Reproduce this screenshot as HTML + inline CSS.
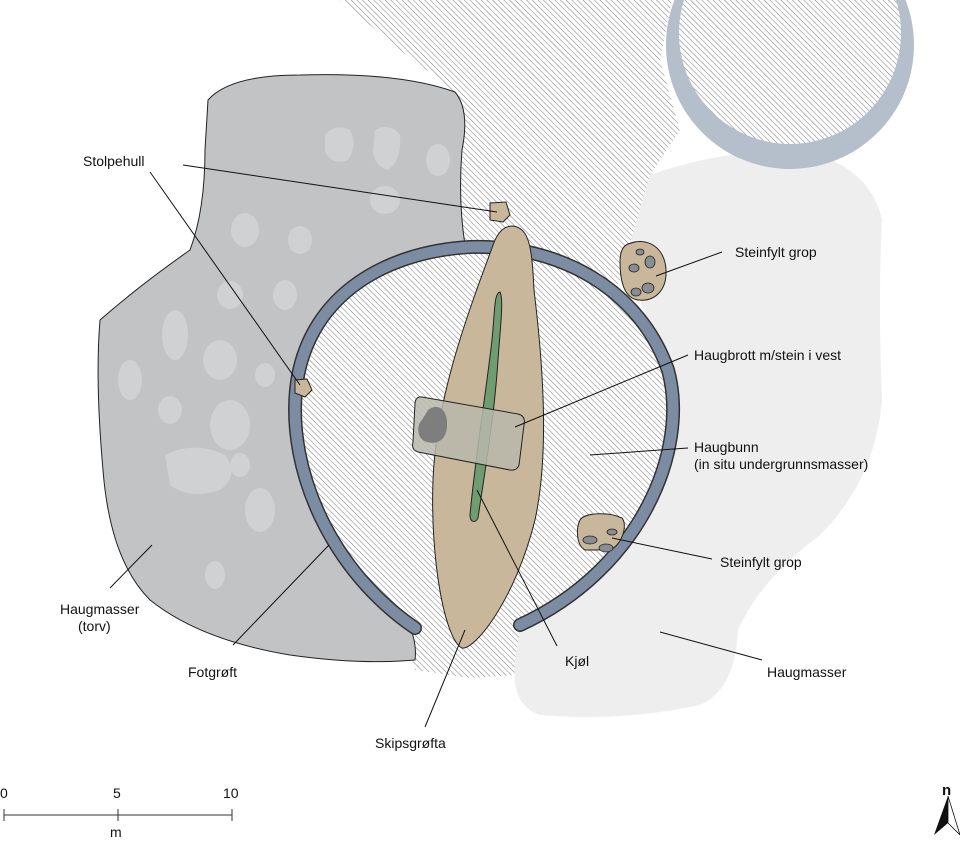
<!DOCTYPE html>
<html><head><meta charset="utf-8"><style>
body{margin:0;background:#fff}
svg{display:block}
text{font-family:"Liberation Sans",sans-serif;font-size:14px;fill:#111}
</style></head><body>
<svg width="960" height="842" viewBox="0 0 960 842">
<defs>
<pattern id="h" patternUnits="userSpaceOnUse" width="4" height="4" patternTransform="rotate(-45)">
<rect width="4" height="4" fill="#fff"/>
<line x1="0" y1="0" x2="0" y2="4" stroke="#7a7a7a" stroke-width="1"/>
</pattern>
</defs>
<!-- hatched background -->
<path d="M340,0 L672,0 L660,60 L680,130 L650,175 L640,240 L600,320 L560,560 L520,640 L515,675 L470,678 L415,670 L395,600 L420,400 L455,260 L465,120 L440,80 L400,50 Z" fill="url(#h)"/>
<!-- light grey right -->
<path d="M650,175 Q720,150 800,150 Q870,165 882,220 Q878,300 882,400 Q875,480 820,535 Q760,580 738,630 Q735,690 700,705 Q620,722 540,715 Q510,705 515,660 L520,630 L600,580 L655,480 L668,380 L640,300 L625,260 Z" fill="#eeeeee"/>
<!-- top right circle (crescent thicker at bottom) -->
<circle cx="790" cy="45" r="124" fill="#b5bfcb"/>
<circle cx="790" cy="33" r="111" fill="url(#h)"/>
<!-- dark grey left -->
<path d="M208,100 Q230,75 300,75 Q400,72 455,92 Q470,110 462,150 Q458,200 465,245 L410,262 Q340,290 310,340 Q290,400 300,470 Q330,560 400,610 Q418,635 415,660 Q360,665 290,655 Q200,640 150,600 Q110,560 103,470 Q95,380 100,320 Q140,285 190,250 Q205,210 205,150 Z" fill="#c2c3c5" stroke="#222" stroke-width="1"/>
<g fill="#d0d1d3">
<path d="M325,135 q10,-12 25,-5 q8,15 -2,30 q-15,6 -23,-8 z"/><path d="M375,130 q15,-8 25,5 q2,25 -12,35 q-15,-5 -15,-20 z"/><ellipse cx="438" cy="160" rx="12" ry="16"/>
<ellipse cx="385" cy="200" rx="15" ry="14"/><ellipse cx="245" cy="230" rx="14" ry="17"/><ellipse cx="300" cy="240" rx="12" ry="14"/>
<ellipse cx="230" cy="295" rx="13" ry="14"/><ellipse cx="285" cy="295" rx="12" ry="15"/><ellipse cx="175" cy="335" rx="13" ry="25"/>
<ellipse cx="220" cy="360" rx="17" ry="20"/><ellipse cx="130" cy="380" rx="12" ry="20"/><ellipse cx="265" cy="375" rx="10" ry="12"/>
<ellipse cx="230" cy="425" rx="20" ry="25"/><ellipse cx="170" cy="410" rx="12" ry="14"/><path d="M165,455 q30,-15 60,0 q15,20 -5,35 q-30,10 -50,-5 z"/>
<ellipse cx="260" cy="510" rx="15" ry="22"/><ellipse cx="240" cy="465" rx="10" ry="12"/><ellipse cx="215" cy="575" rx="10" ry="14"/>
</g>
<!-- ring interior hatched -->
<path d="M415,628 C330,570 288,470 296,390 C305,300 380,252 470,247 C560,244 640,290 668,370 C690,450 640,570 520,625 Z" fill="url(#h)"/>
<!-- ring -->
<path d="M415,628 C330,570 288,470 296,390 C305,300 380,252 470,247 C560,244 640,290 668,370 C690,450 640,570 520,625" fill="none" stroke="#333" stroke-width="14" stroke-linecap="round"/>
<path d="M415,628 C330,570 288,470 296,390 C305,300 380,252 470,247 C560,244 640,290 668,370 C690,450 640,570 520,625" fill="none" stroke="#7b8ca3" stroke-width="11" stroke-linecap="round"/>
<!-- ship -->
<path d="M513,226 C530,228 532,250 534,290 C545,380 548,460 535,520 C515,600 475,650 462,648 C445,640 430,560 433,480 C436,400 465,320 495,240 C500,230 505,226 513,226 Z" fill="#c9b79b" stroke="#222" stroke-width="1"/>
<path d="M500,292 C504,300 500,330 498,360 C494,420 485,470 478,518 C476,523 470,523 470,515 C475,460 485,400 492,340 C495,310 494,293 500,292 Z" fill="#6f9d70" stroke="#222" stroke-width="1"/>
<path d="M422,397 L518,414 Q526,416 524,425 L519,465 Q517,471 510,470 L418,452 Q411,450 413,442 L415,403 Q416,396 422,397 Z" fill="#b9b9ad" fill-opacity="0.85" stroke="#222" stroke-width="1"/>
<path d="M428,410 C438,402 448,410 447,425 C447,440 437,445 427,442 C417,440 416,425 422,420 Z" fill="#7e7e7e"/>
<!-- small pits -->
<path d="M490,203 L506,202 L510,215 L503,222 L490,220 Z" fill="#c9b79b" stroke="#222"/>
<path d="M295,380 L307,379 L312,390 L305,397 L295,393 Z" fill="#c9b79b" stroke="#222"/>
<path d="M628,244 C648,236 665,248 666,270 C667,290 655,302 638,300 C622,298 620,275 620,262 C620,252 623,246 628,244 Z" fill="#c9b79b" stroke="#222"/>
<g fill="#8a8d93" stroke="#222" stroke-width="0.8">
<ellipse cx="634" cy="268" rx="5" ry="4"/><ellipse cx="650" cy="262" rx="5" ry="6"/><ellipse cx="648" cy="288" rx="6" ry="5"/><ellipse cx="636" cy="292" rx="5" ry="4"/><ellipse cx="640" cy="252" rx="4" ry="3"/></g>
<path d="M580,520 C585,512 610,512 622,518 C628,525 622,545 610,550 L585,550 C576,545 576,528 580,520 Z" fill="#c9b79b" stroke="#222"/>
<g fill="#8a8d93" stroke="#222" stroke-width="0.8"><ellipse cx="590" cy="540" rx="7" ry="4"/><ellipse cx="606" cy="548" rx="7" ry="4"/><ellipse cx="612" cy="532" rx="5" ry="3"/></g>
<!-- leader lines -->
<g stroke="#111" stroke-width="1" fill="none">
<line x1="183" y1="165" x2="497" y2="212"/>
<line x1="150" y1="172" x2="300" y2="385"/>
<line x1="722" y1="252" x2="656" y2="276"/>
<line x1="688" y1="355" x2="515" y2="427"/>
<line x1="688" y1="448" x2="590" y2="455"/>
<line x1="712" y1="559" x2="612" y2="538"/>
<line x1="762" y1="660" x2="660" y2="632"/>
<line x1="557" y1="646" x2="477" y2="490"/>
<line x1="465" y1="630" x2="425" y2="727"/>
<line x1="233" y1="645" x2="329" y2="545"/>
<line x1="110" y1="588" x2="152" y2="545"/>
</g>
<text x="83" y="166">Stolpehull</text>
<text x="735" y="257">Steinfylt grop</text>
<text x="694" y="360">Haugbrott m/stein i vest</text>
<text x="694" y="452">Haugbunn</text>
<text x="694" y="469">(in situ undergrunnsmasser)</text>
<text x="720" y="567">Steinfylt grop</text>
<text x="767" y="677">Haugmasser</text>
<text x="565" y="666">Kjøl</text>
<text x="375" y="748">Skipsgrøfta</text>
<text x="188" y="677">Fotgrøft</text>
<text x="60" y="614">Haugmasser</text>
<text x="78" y="631">(torv)</text>
<!-- scale -->
<g stroke="#333" stroke-width="1"><line x1="4" y1="815" x2="232" y2="815"/><line x1="4" y1="809" x2="4" y2="821"/><line x1="118" y1="809" x2="118" y2="821"/><line x1="232" y1="809" x2="232" y2="821"/></g>
<text x="0" y="798">0</text><text x="113" y="798">5</text><text x="223" y="798">10</text><text x="110" y="837">m</text>
<!-- north arrow -->
<text x="942" y="795" style="font-size:15px;font-weight:bold">n</text>
<path d="M948,796 L934,835 L948,823 Z" fill="#111"/>
<path d="M948,796 L960,835 L948,823 Z" fill="#fff" stroke="#111" stroke-width="0.8"/>
</svg>
</body></html>
